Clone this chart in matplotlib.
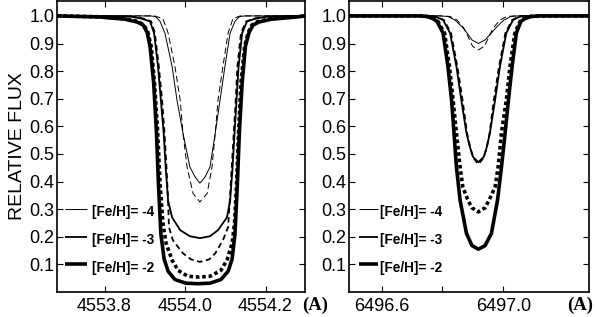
import matplotlib
import matplotlib.pyplot as plt

matplotlib.use("Agg")

plt.rcParams["font.family"] = ["Liberation Sans", "DejaVu Sans"]
plt.rcParams["lines.scale_dashes"] = False

# ---- left panel: Ba II 4554 ----
ba_m2_wl = [4553.682, 4553.789, 4553.851, 4553.881, 4553.896, 4553.906, 4553.913, 4553.922,
            4553.929, 4553.934, 4553.940, 4553.948, 4553.958, 4553.975, 4554.002, 4554.032,
            4554.062, 4554.089, 4554.107, 4554.117, 4554.124, 4554.130, 4554.135, 4554.142,
            4554.150, 4554.159, 4554.169, 4554.184, 4554.214, 4554.276, 4554.298]
ba_m2_fx = [1.0, 0.996, 0.988, 0.978, 0.967, 0.94, 0.89, 0.76,
            0.58, 0.39, 0.21, 0.12, 0.075, 0.045, 0.032, 0.030,
            0.032, 0.045, 0.075, 0.12, 0.21, 0.39, 0.58, 0.76,
            0.89, 0.94, 0.967, 0.978, 0.988, 0.996, 1.0]
ba_m2d_wl = [4553.682, 4553.789, 4553.851, 4553.883, 4553.898, 4553.908, 4553.916, 4553.924,
             4553.932, 4553.938, 4553.945, 4553.953, 4553.968, 4553.983, 4554.007, 4554.035,
             4554.062, 4554.089, 4554.104, 4554.117, 4554.123, 4554.128, 4554.133, 4554.139,
             4554.148, 4554.157, 4554.166, 4554.181, 4554.211, 4554.276, 4554.298]
ba_m2d_fx = [1.0, 0.997, 0.99, 0.98, 0.967, 0.94, 0.89, 0.76,
             0.58, 0.39, 0.25, 0.176, 0.115, 0.078, 0.057, 0.054,
             0.057, 0.078, 0.115, 0.176, 0.25, 0.39, 0.58, 0.76,
             0.89, 0.94, 0.967, 0.98, 0.99, 0.997, 1.0]
ba_m3_wl = [4553.682, 4553.863, 4553.893, 4553.913, 4553.923, 4553.933, 4553.940, 4553.947,
            4553.952, 4553.958, 4553.968, 4553.988, 4554.012, 4554.037, 4554.062, 4554.082,
            4554.104, 4554.112, 4554.118, 4554.123, 4554.128, 4554.133, 4554.142, 4554.154,
            4554.174, 4554.206, 4554.298]
ba_m3_fx = [1.0, 0.998, 0.99, 0.98, 0.938, 0.816, 0.695, 0.575,
            0.45, 0.33, 0.27, 0.224, 0.202, 0.195, 0.202, 0.224,
            0.27, 0.33, 0.45, 0.575, 0.695, 0.816, 0.938, 0.98,
            0.99, 0.998, 1.0]
ba_m3d_wl = [4553.682, 4553.868, 4553.898, 4553.916, 4553.925, 4553.935, 4553.943, 4553.949,
             4553.954, 4553.958, 4553.960, 4553.970, 4553.995, 4554.015, 4554.037, 4554.060,
             4554.075, 4554.094, 4554.107, 4554.111, 4554.116, 4554.121, 4554.126, 4554.130,
             4554.139, 4554.152, 4554.171, 4554.201, 4554.298]
ba_m3d_fx = [1.0, 0.998, 0.99, 0.98, 0.938, 0.816, 0.695, 0.575,
             0.45, 0.33, 0.235, 0.187, 0.14, 0.118, 0.109, 0.118,
             0.14, 0.187, 0.235, 0.33, 0.45, 0.575, 0.695, 0.816,
             0.938, 0.98, 0.99, 0.998, 1.0]
ba_m4_wl = [4553.682, 4553.913, 4553.925, 4553.930, 4553.938, 4553.950, 4553.968, 4553.980,
            4553.995, 4554.012, 4554.025, 4554.037, 4554.050, 4554.062, 4554.075, 4554.087,
            4554.099, 4554.112, 4554.124, 4554.132, 4554.137, 4554.149, 4554.298]
ba_m4_fx = [1.0, 1.0, 0.998, 0.993, 0.98, 0.938, 0.816, 0.695,
            0.575, 0.453, 0.417, 0.394, 0.417, 0.453, 0.575, 0.695,
            0.816, 0.938, 0.98, 0.993, 0.998, 1.0, 1.0]
ba_m4d_wl = [4553.682, 4553.925, 4553.945, 4553.958, 4553.975, 4553.988, 4553.995, 4554.005,
             4554.020, 4554.037, 4554.055, 4554.067, 4554.075, 4554.082, 4554.094, 4554.107,
             4554.119, 4554.137, 4554.298]
ba_m4d_fx = [1.0, 1.0, 0.99, 0.938, 0.816, 0.695, 0.575, 0.453,
             0.357, 0.326, 0.357, 0.453, 0.575, 0.695, 0.816, 0.938,
             0.99, 1.0, 1.0]

# ---- right panel: 6497 ----
r_m2_wl = [6496.4925, 6496.726, 6496.749, 6496.769, 6496.782, 6496.802, 6496.818, 6496.830,
           6496.838, 6496.846, 6496.858, 6496.879, 6496.897, 6496.918, 6496.940, 6496.961,
           6496.981, 6496.994, 6497.006, 6497.017, 6497.029, 6497.043, 6497.058, 6497.071,
           6497.091, 6497.121, 6497.282]
r_m2_fx = [1.0, 1.0, 0.998, 0.99, 0.98, 0.938, 0.816, 0.695,
           0.575, 0.452, 0.332, 0.212, 0.168, 0.155, 0.168, 0.212,
           0.332, 0.452, 0.575, 0.695, 0.816, 0.938, 0.98, 0.99,
           0.998, 1.0, 1.0]
r_m2d_wl = [6496.4925, 6496.726, 6496.752, 6496.772, 6496.785, 6496.807, 6496.823, 6496.835,
            6496.846, 6496.858, 6496.867, 6496.884, 6496.897, 6496.918, 6496.940, 6496.953,
            6496.973, 6496.983, 6496.994, 6497.010, 6497.022, 6497.038, 6497.055, 6497.068,
            6497.088, 6497.121, 6497.282]
r_m2d_fx = [1.0, 1.0, 0.998, 0.99, 0.98, 0.938, 0.816, 0.695,
            0.575, 0.452, 0.38, 0.332, 0.305, 0.29, 0.305, 0.332,
            0.38, 0.452, 0.575, 0.695, 0.816, 0.938, 0.98, 0.99,
            0.998, 1.0, 1.0]
r_m3_wl = [6496.4925, 6496.742, 6496.775, 6496.802, 6496.825, 6496.846, 6496.862, 6496.879,
           6496.890, 6496.900, 6496.918, 6496.936, 6496.946, 6496.956, 6496.973, 6496.989,
           6497.010, 6497.032, 6497.055, 6497.088, 6497.282]
r_m3_fx = [1.0, 1.0, 0.998, 0.985, 0.938, 0.816, 0.695, 0.575,
           0.526, 0.49, 0.47, 0.49, 0.526, 0.575, 0.695, 0.816,
           0.938, 0.985, 0.998, 1.0, 1.0]
r_m3d_wl = [6496.4925, 6496.749, 6496.779, 6496.805, 6496.828, 6496.849, 6496.866, 6496.881,
            6496.892, 6496.902, 6496.918, 6496.935, 6496.945, 6496.955, 6496.969, 6496.986,
            6497.007, 6497.029, 6497.052, 6497.081, 6497.282]
r_m3d_fx = [1.0, 1.0, 0.998, 0.985, 0.938, 0.816, 0.695, 0.575,
            0.52, 0.485, 0.463, 0.485, 0.52, 0.575, 0.695, 0.816,
            0.938, 0.985, 0.998, 1.0, 1.0]
r_m4_wl = [6496.4925, 6496.792, 6496.818, 6496.841, 6496.864, 6496.881, 6496.897, 6496.918,
           6496.940, 6496.961, 6496.979, 6497.002, 6497.025, 6497.048, 6497.282]
r_m4_fx = [1.0, 1.0, 0.998, 0.985, 0.961, 0.938, 0.913, 0.90,
           0.913, 0.938, 0.961, 0.985, 0.998, 1.0, 1.0]
r_m4d_wl = [6496.4925, 6496.798, 6496.825, 6496.848, 6496.871, 6496.884, 6496.899, 6496.918,
            6496.938, 6496.953, 6496.966, 6496.989, 6497.012, 6497.038, 6497.282]
r_m4d_fx = [1.0, 1.0, 0.998, 0.985, 0.955, 0.925, 0.89, 0.877,
            0.89, 0.925, 0.955, 0.985, 0.998, 1.0, 1.0]

legend_labels = ["[Fe/H]= -4", "[Fe/H]= -3", "[Fe/H]= -2"]
legend_levels = [0.3, 0.2, 0.1]
widths = [0.7, 1.3, 2.6]
dash_styles = [(0, (4.5, 2.5)), (0, (4.0, 2.6)), (0, (2.6, 2.0))]

fig = plt.figure(figsize=(5.97, 3.17), dpi=100)
ax_l = fig.add_axes([57 / 597, 25 / 317, 248 / 597, 291 / 317])
ax_r = fig.add_axes([349 / 597, 25 / 317, 240 / 597, 291 / 317])

left_curves = [(ba_m4_wl, ba_m4_fx, ba_m4d_wl, ba_m4d_fx),
               (ba_m3_wl, ba_m3_fx, ba_m3d_wl, ba_m3d_fx),
               (ba_m2_wl, ba_m2_fx, ba_m2d_wl, ba_m2d_fx)]
right_curves = [(r_m4_wl, r_m4_fx, r_m4d_wl, r_m4d_fx),
                (r_m3_wl, r_m3_fx, r_m3d_wl, r_m3d_fx),
                (r_m2_wl, r_m2_fx, r_m2d_wl, r_m2d_fx)]

for ax, curves in [(ax_l, left_curves), (ax_r, right_curves)]:
    for (wl, fx, wld, fxd), lw, ds in zip(curves, widths, dash_styles):
        ax.plot(wl, fx, color="black", lw=lw, solid_joinstyle="round")
        ax.plot(wld, fxd, color="black", lw=lw, linestyle=ds, dash_capstyle="butt")
    ax.set_ylim(0, 1.054)
    ax.set_yticks([0.1, 0.2, 0.3, 0.4, 0.5, 0.6, 0.7, 0.8, 0.9, 1.0])
    ax.set_yticklabels(["0.1", "0.2", "0.3", "0.4", "0.5", "0.6", "0.7", "0.8", "0.9", "1.0"])
    ax.tick_params(direction="in", length=4, width=0.8, top=True, right=True,
                   labelsize=13, pad=2)
    ax.tick_params(axis="x", pad=4)
    for sp in ax.spines.values():
        sp.set_linewidth(1.2)

ax_l.set_xlim(4553.682, 4554.298)
ax_l.set_xticks([4553.8, 4554.0, 4554.2])
ax_l.set_xticklabels(["4553.8", "4554.0", "4554.2"])
ax_r.set_xlim(6496.4925, 6497.282)
ax_r.set_xticks([6496.6, 6496.8, 6497.0])
ax_r.set_xticklabels(["6496.6", "", "6497.0"])

ax_l.set_ylabel("RELATIVE FLUX", fontsize=14, labelpad=2)

# legend marks drawn in axes-fraction x, data y
for ax, x0, x1, xt in [(ax_l, 0.032, 0.12, 0.14), (ax_r, 0.04, 0.12, 0.13)]:
    tr = ax.get_yaxis_transform()
    for lab, lev, lw in zip(legend_labels, legend_levels, widths):
        ax.plot([x0, x1], [lev, lev], color="black", lw=lw, transform=tr,
                solid_capstyle="butt")
        ax.text(xt, lev - 0.012, lab, transform=tr, fontsize=9.8,
                fontweight="bold", va="center", ha="left")

fig.text(315 / 597, 1 - 305 / 317, "(A)", fontsize=13.5, fontweight="bold",
         family="Liberation Serif", ha="center", va="center")
fig.text(580 / 597, 1 - 305 / 317, "(A)", fontsize=13.5, fontweight="bold",
         family="Liberation Serif", ha="center", va="center")

fig.savefig("out.png", dpi=100)
